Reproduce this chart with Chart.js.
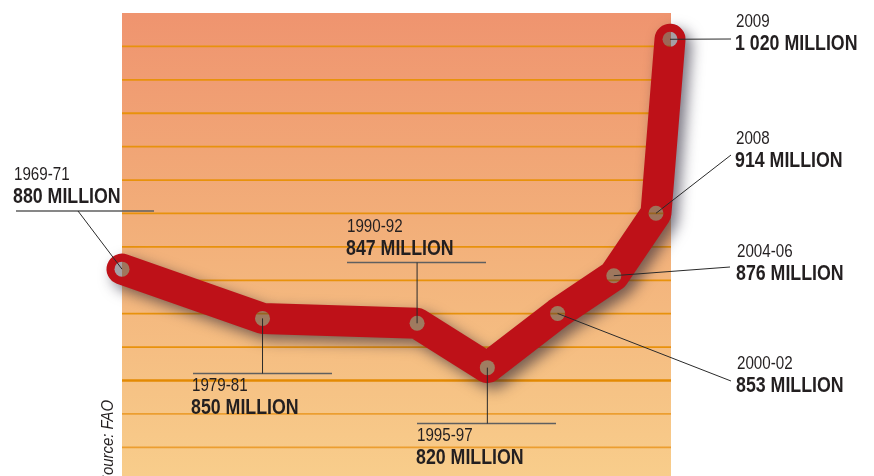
<!DOCTYPE html>
<html>
<head>
<meta charset="utf-8">
<script src="https://cdn.jsdelivr.net/npm/chart.js@4/dist/chart.umd.min.js"></script>
<style>
  html, body { margin: 0; padding: 0; background: #fff; }
  canvas { display: block; }
</style>
</head>
<body>
<canvas id="hunger" width="874" height="476"></canvas>
<script>
// Number of undernourished people in the world, in millions
const periods  = ['1969-71', '1979-81', '1990-92', '1995-97', '2000-02', '2004-06', '2008', '2009'];
const midYears = [1970, 1980, 1991, 1996, 2001, 2005, 2008, 2009];
const millions = [880, 850, 847, 820, 853, 876, 914, 1020];
const unitWord = 'MILLION';
const sourceNote = 'Source: FAO';

// Visible value window of the panel and spacing of its ruled lines
const yMin = 754, yMax = 1036, ruleStep = 20.35;
const xMin = 1970, xMax = 2009.07;

// Caption placement: text left edge, baseline of the period line,
// optional underline [x1, x2, y] and the far end of the leader line
// ('dot' means the leader drops straight from the marker).
const captionLayout = [
  { x: 14,  y: 180, rule: [16, 154, 211],    leader: [78, 211] },
  { x: 192, y: 391, rule: [193, 332, 373.5], leader: ['dot', 373.5] },
  { x: 347, y: 232, rule: [347, 486, 262.5], leader: ['dot', 262.5] },
  { x: 417, y: 441, rule: [417, 556, 423.5], leader: ['dot', 423.5] },
  { x: 737, y: 369, rule: null, leader: [731, 381] },
  { x: 737, y: 257, rule: null, leader: [730, 267] },
  { x: 736, y: 144, rule: null, leader: [731, 155] },
  { x: 736, y: 27,  rule: null, leader: [731, 39] }
];

const FACE = '"Liberation Sans", Arial, sans-serif';

function withSpaces(v) {
  return String(v).replace(/\B(?=(\d{3})+(?!\d))/g, ' ');
}

// Condensed lettering: a regular face squeezed horizontally
function narrowText(ctx, text, x, y, font, squeeze) {
  ctx.save();
  ctx.font = font;
  ctx.translate(x, y);
  ctx.scale(squeeze, 1);
  ctx.fillText(text, 0, 0);
  ctx.restore();
}

// White page, warm gradient panel and its horizontal rules
function paintBackdrop(ctx, chart) {
  const a = chart.chartArea;
  const ys = chart.scales.y;
  ctx.save();
  ctx.fillStyle = '#ffffff';
  ctx.fillRect(0, 0, chart.width, chart.height);
  const g = ctx.createLinearGradient(0, a.top, 0, a.bottom);
  g.addColorStop(0, '#EF946F');
  g.addColorStop(0.45, '#F2AE79');
  g.addColorStop(1, '#F8CD8B');
  ctx.fillStyle = g;
  ctx.fillRect(a.left, a.top, a.right - a.left, a.bottom - a.top);
  let k = 1;
  for (let v = yMax - ruleStep; v > yMin; v -= ruleStep, k++) {
    const y = ys.getPixelForValue(v);
    ctx.strokeStyle = k === 11 ? '#E38A04' : (k > 11 ? '#EC9E30' : '#E8920C');
    ctx.lineWidth = k === 11 ? 2.6 : 1.8;
    ctx.beginPath();
    ctx.moveTo(a.left, y);
    ctx.lineTo(a.right, y);
    ctx.stroke();
  }
  ctx.restore();
}

// Markers look like holes punched through the ribbon: fill them with a
// darkened copy of whatever lies underneath.
let holePattern = null;
function holeFill(c) {
  const chart = c.chart;
  if (!chart.chartArea || !chart.scales.y) return '#9A7A6C';
  if (!holePattern) {
    const off = document.createElement('canvas');
    off.width = chart.width;
    off.height = chart.height;
    const o = off.getContext('2d');
    paintBackdrop(o, chart);
    o.fillStyle = 'rgba(55, 45, 55, 0.45)';
    o.fillRect(0, 0, off.width, off.height);
    holePattern = chart.ctx.createPattern(off, 'no-repeat');
  }
  return holePattern;
}

const backdropPlugin = {
  id: 'backdrop',
  beforeDatasetsDraw(chart) { paintBackdrop(chart.ctx, chart); }
};

const ribbonShadow = {
  id: 'ribbonShadow',
  beforeDatasetDraw(chart, args) {
    if (args.index !== 0) return;
    const ctx = chart.ctx;
    ctx.save();
    ctx.shadowColor = 'rgba(35, 30, 50, 0.6)';
    ctx.shadowBlur = 14;
    ctx.shadowOffsetX = 6;
    ctx.shadowOffsetY = 6;
  },
  afterDatasetDraw(chart, args) {
    if (args.index !== 0) return;
    chart.ctx.restore();
  }
};

const captions = {
  id: 'captions',
  afterDatasetsDraw(chart) {
    const ctx = chart.ctx;
    const xs = chart.scales.x, ys = chart.scales.y;
    ctx.save();
    captionLayout.forEach((c, i) => {
      const px = xs.getPixelForValue(midYears[i]);
      const py = ys.getPixelForValue(millions[i]);
      // underline
      if (c.rule) {
        ctx.strokeStyle = '#5f5f5f';
        ctx.lineWidth = 1.6;
        ctx.beginPath();
        ctx.moveTo(c.rule[0], c.rule[2]);
        ctx.lineTo(c.rule[1], c.rule[2]);
        ctx.stroke();
      }
      // leader from marker to caption
      const lx = c.leader[0] === 'dot' ? px : c.leader[0];
      ctx.strokeStyle = '#2a2a2a';
      ctx.lineWidth = 1;
      ctx.beginPath();
      ctx.moveTo(px, py);
      ctx.lineTo(lx, c.leader[1]);
      ctx.stroke();
      // period and value
      ctx.fillStyle = '#231F20';
      ctx.textAlign = 'left';
      ctx.textBaseline = 'alphabetic';
      narrowText(ctx, periods[i], c.x, c.y, '18.5px ' + FACE, 0.82);
      narrowText(ctx, withSpaces(millions[i]) + ' ' + unitWord, c.x - 1, c.y + 22.5,
                 'bold 22.5px ' + FACE, 0.79);
    });
    // vertical source note
    ctx.translate(113, 400);
    ctx.rotate(-Math.PI / 2);
    ctx.textAlign = 'right';
    ctx.fillStyle = '#231F20';
    narrowText(ctx, sourceNote, 0, 0, 'italic 16px ' + FACE, 0.93);
    ctx.restore();
  }
};

const points = midYears.map((yr, i) => ({ x: yr, y: millions[i] }));

new Chart(document.getElementById('hunger'), {
  type: 'line',
  data: {
    datasets: [
      {
        label: 'Undernourished (ribbon)',
        data: points,
        order: 1,
        clip: false,
        borderColor: '#BE1118',
        borderWidth: 31,
        borderCapStyle: 'round',
        borderJoinStyle: 'round',
        pointRadius: 0,
        tension: 0,
        fill: false
      },
      {
        label: 'Undernourished (markers)',
        data: points,
        order: 0,
        clip: false,
        showLine: false,
        pointRadius: 7.5,
        pointBorderWidth: 0,
        pointBackgroundColor: holeFill,
        pointHoverRadius: 7.5
      }
    ]
  },
  options: {
    responsive: false,
    devicePixelRatio: 1,
    animation: false,
    events: [],
    layout: {
      autoPadding: false,
      padding: { left: 122, right: 203, top: 13, bottom: 0 }
    },
    plugins: { legend: { display: false }, tooltip: { enabled: false } },
    scales: {
      x: { type: 'linear', min: xMin, max: xMax, display: false },
      y: { type: 'linear', min: yMin, max: yMax, display: false }
    }
  },
  plugins: [backdropPlugin, ribbonShadow, captions]
});
</script>
</body>
</html>
